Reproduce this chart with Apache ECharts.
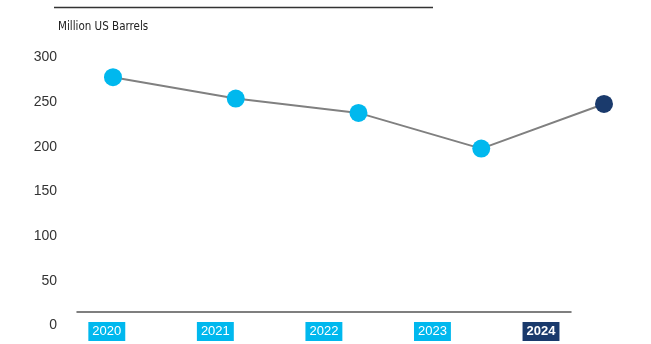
<!DOCTYPE html>
<html>
<head>
<meta charset="utf-8">
<script src="https://cdn.jsdelivr.net/npm/echarts@6/dist/echarts.min.js"></script>
<style>html,body{margin:0;padding:0;background:#fff}#c{width:651px;height:344px}</style>
</head>
<body>
<div id="c"></div>
<script>
const years = ['2020', '2021', '2022', '2023', '2024'];
const barrels = [278, 254, 238, 198, 248];
const yTicks = [0, 50, 100, 150, 200, 250, 300];
const unitLabel = 'Million US Barrels';

const CYAN = '#00B8EE';
const NAVY = '#1A3A6C';
const last = years.length - 1;

const chart = echarts.init(document.getElementById('c'), null, {renderer: 'canvas'});
chart.setOption({
  animation: false,
  backgroundColor: '#fff',
  title: {
    text: unitLabel, left: 53, top: 16,
    textStyle: {fontFamily: '"DejaVu Sans Condensed", "Liberation Sans", sans-serif', fontSize: 11.5, fontWeight: 'normal', color: '#222'}
  },
  graphic: [{
    type: 'line', shape: {x1: 54, y1: 7.5, x2: 433, y2: 7.5},
    style: {stroke: '#333', lineWidth: 1.5}
  }],
  grid: [
    {left: 113, right: 47, top: 57.5, bottom: 18.5, outerBoundsMode: 'none'},
    {left: 106.8, right: 110, top: 57.5, bottom: 26, outerBoundsMode: 'none'},
    {left: 77, right: 80, top: 57.5, bottom: 32, outerBoundsMode: 'none'}
  ],
  xAxis: [
    {gridIndex: 0, type: 'category', data: years, boundaryGap: false, show: false},
    {gridIndex: 1, type: 'category', data: years, boundaryGap: false,
      axisLine: {show: false}, axisTick: {show: false},
      axisLabel: {
        margin: 7, interval: 0,
        formatter: (v, i) => (i === last ? '{b|' + v + '}' : '{a|' + v + '}'),
        rich: {
          a: {fontFamily: 'Liberation Sans', fontSize: 13, color: '#fff', backgroundColor: CYAN, padding: [3, 4, 3, 4], lineHeight: 13},
          b: {fontFamily: 'Liberation Sans', fontSize: 13, fontWeight: 'bold', color: '#fff', backgroundColor: NAVY, padding: [3, 4, 3, 4], lineHeight: 13}
        }
      }
    },
    {gridIndex: 2, type: 'category', data: years,
      axisLine: {show: true, lineStyle: {color: '#555', width: 1.5}},
      axisTick: {show: false}, axisLabel: {show: false}}
  ],
  yAxis: [
    {gridIndex: 0, type: 'value', min: yTicks[0], max: yTicks[yTicks.length - 1], interval: yTicks[1] - yTicks[0],
      axisLine: {show: false}, axisTick: {show: false}, splitLine: {show: false},
      axisLabel: {margin: 56, fontFamily: 'Liberation Sans', fontSize: 14, color: '#333'}},
    {gridIndex: 1, type: 'value', min: 0, max: 300, show: false, splitLine: {show: false}},
    {gridIndex: 2, type: 'value', min: 0, max: 300, show: false, splitLine: {show: false}}
  ],
  series: [{
    type: 'line', xAxisIndex: 0, yAxisIndex: 0,
    data: barrels.map((v, i) => ({value: v, itemStyle: {color: i === last ? NAVY : CYAN}})),
    symbol: 'circle', symbolSize: 18,
    lineStyle: {color: '#808080', width: 2},
    itemStyle: {borderWidth: 0}
  }]
});
</script>
</body>
</html>
